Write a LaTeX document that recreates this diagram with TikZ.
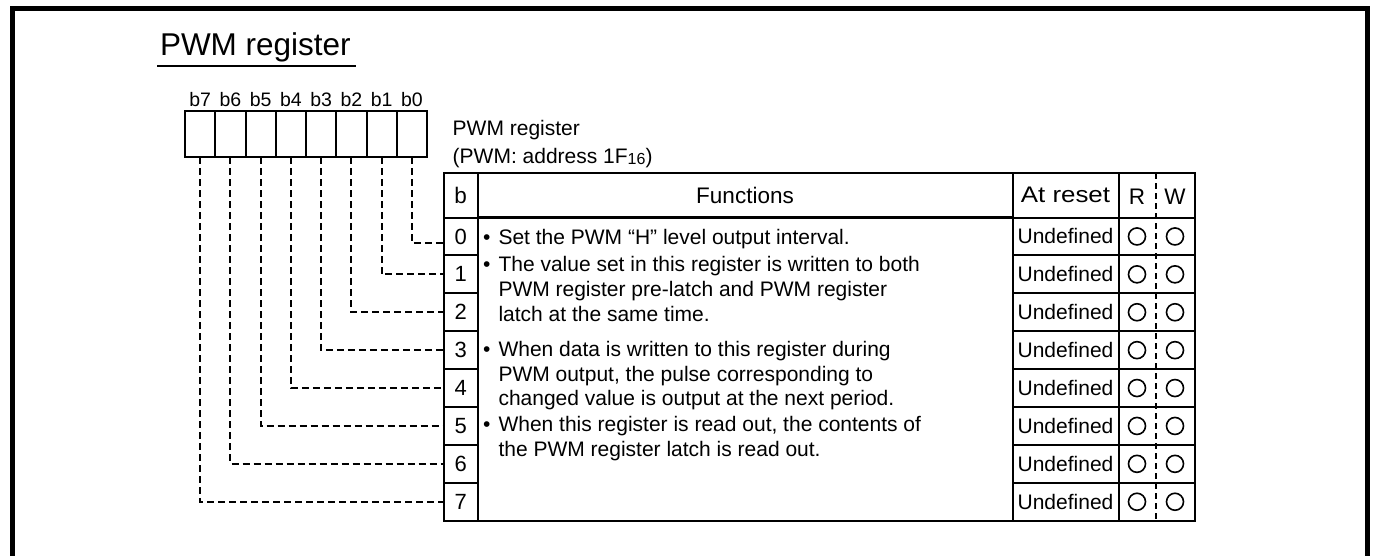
\documentclass[tikz,border=0pt]{standalone}
\usepackage{fontspec}
\setmainfont{Liberation Sans}
\begin{document}
\begin{tikzpicture}[x=1pt,y=-1pt,
  every node/.style={inner sep=0pt, outer sep=0pt},
  box/.style={draw, line width=2pt, inner sep=0pt},
  conn/.style={line width=1.8pt, dash pattern=on 7pt off 4pt},
  rwdiv/.style={line width=1.6pt, dash pattern=on 6pt off 4pt},
  body/.style={font=\fontsize{21}{25}\selectfont, anchor=base west},
  head/.style={font=\fontsize{22.5}{26}\selectfont},
  flag/.style={draw, circle, line width=1.6pt, minimum size=17pt, inner sep=0pt},
]
\useasboundingbox (0,0) rectangle (1374,555);

% outer frame (open at the bottom)
\draw[line width=5.5pt, line join=miter] (12.3,560) -- (12.3,8.7) -- (1367.5,8.7) -- (1367.5,560);

% title
\node[font=\fontsize{31.5}{31.5}\selectfont, anchor=base west] (title) at (160,55) {PWM register};
\draw[line width=1.5pt] (157,66) -- (356,66);

% register bit cells b7 ... b0
\foreach \k in {0,...,7} {
  \pgfmathsetmacro\cx{200.125+30.25*(7-\k)}
  \node[box, minimum width=30.25pt, minimum height=46pt] (c\k) at (\cx,134) {};
  \node[font=\fontsize{19.5}{19.5}\selectfont, anchor=base] (bl\k) at (\cx,106) {b\k};
}

% register name and address
\node[font=\fontsize{21}{21}\selectfont, anchor=base west] (st1) at (452.7,135) {PWM register};
\node[font=\fontsize{21}{21}\selectfont, anchor=base west] (st2) at (452.7,163)
  {(PWM: address 1F\raisebox{-1pt}{\fontsize{16}{16}\selectfont 16})};

% table header
\node[box, head, minimum width=33.5pt, minimum height=44.5pt] (hb) at (460.75,195.25) {b};
\node[box, head, minimum width=535pt, minimum height=44.5pt] (hf) at (745,195.25) {Functions};
\node[box, head, minimum width=106pt, minimum height=44.5pt, font=\fontsize{22.5}{26}\selectfont] (ha) at (1065.5,195.25) {\scalebox{1.15}[1]{At reset}};
\node[box, minimum width=76pt, minimum height=44.5pt] (hrw) at (1156.5,195.25) {};
\node[head] (hr) at (1137,196.5) {R};
\node[head] (hw) at (1175,196.5) {W};

% functions column
\node[box, minimum width=535pt, minimum height=303.5pt] (fbody) at (745,369.2) {};

% bit rows
\foreach \k in {0,...,7} {
  \pgfmathsetmacro\cy{236.45+37.9*\k}
  \node[box, minimum width=33.5pt, minimum height=37.9pt, font=\fontsize{22}{22}\selectfont] (r\k) at (460.75,\cy) {\k};
  \node[box, minimum width=106pt, minimum height=37.9pt, font=\fontsize{21}{21}\selectfont] (u\k) at (1065.5,\cy) {Undefined};
  \node[box, minimum width=76pt, minimum height=37.9pt] (rw\k) at (1156.5,\cy) {};
  \node[flag] (rd\k) at (1137,\cy) {};
  \node[flag] (wr\k) at (1175,\cy) {};
}

% R / W divider
\draw[rwdiv] ([xshift=-0.5pt]hrw.north) -- ([xshift=-0.5pt]rw7.south);

% connectors from register bits to table rows
\draw[conn] (c0.south) |- ([yshift=-6.5pt]r0.west);
\foreach \k in {1,...,7} \draw[conn] (c\k.south) |- (r\k.west);

% function description
\node[body] (d1) at (483,244) {\textbullet};
\node[body] (f1a) at (498.5,244) {Set the PWM “H” level output interval.};
\node[body] (d2) at (483,271) {\textbullet};
\node[body] (f2a) at (498.5,271) {The value set in this register is written to both};
\node[body] (f2b) at (498.5,296) {PWM register pre-latch and PWM register};
\node[body] (f2c) at (498.5,321) {latch at the same time.};
\node[body] (d3) at (483,356) {\textbullet};
\node[body] (f3a) at (498.5,356) {When data is written to this register during};
\node[body] (f3b) at (498.5,381) {PWM output, the pulse corresponding to};
\node[body] (f3c) at (498.5,405.5) {changed value is output at the next period.};
\node[body] (d4) at (483,431) {\textbullet};
\node[body] (f4a) at (498.5,431) {When this register is read out, the contents of};
\node[body] (f4b) at (498.5,456) {the PWM register latch is read out.};
\end{tikzpicture}
\end{document}
